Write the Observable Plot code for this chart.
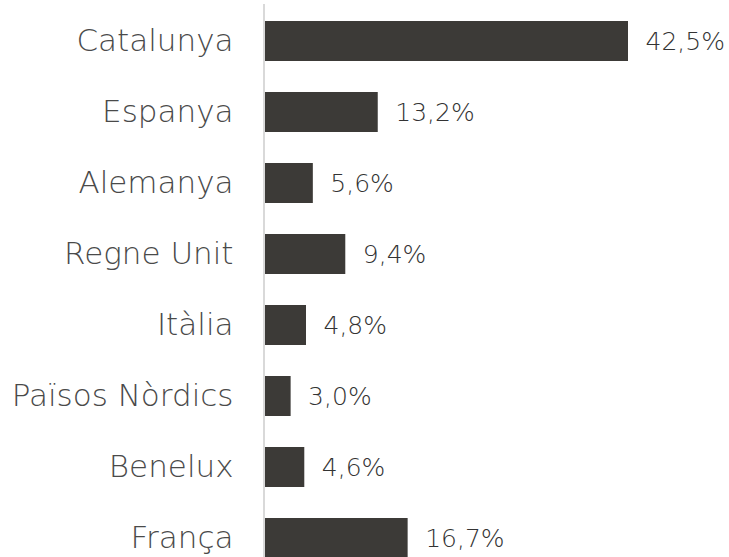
<!DOCTYPE html>
<html>
<head>
<meta charset="utf-8">
<script src="https://cdn.jsdelivr.net/npm/d3@7"></script>
<script src="https://cdn.jsdelivr.net/npm/@observablehq/plot@0.6"></script>
<style>
  html, body { margin: 0; padding: 0; background: #ffffff; }
  #chart { width: 729px; height: 557px; overflow: hidden; }
</style>
</head>
<body>
<div id="chart"></div>
<script>
const categories = ["Catalunya", "Espanya", "Alemanya", "Regne Unit", "Itàlia", "Països Nòrdics", "Benelux", "França"];
const values = [42.5, 13.2, 5.6, 9.4, 4.8, 3.0, 4.6, 16.7];

const data = categories.map((c, i) => ({category: c, value: values[i]}));
const fmt = v => v.toFixed(1).replace(".", ",") + "%";

const chart = Plot.plot({
  width: 729,
  height: 557,
  marginLeft: 265,
  marginRight: 101,
  marginTop: 4,
  marginBottom: 0,
  style: {fontFamily: "'DejaVu Sans', sans-serif", background: "#ffffff"},
  x: {domain: [0, 42.5], axis: null},
  y: {domain: categories, range: [19, 560], paddingInner: 0.44, paddingOuter: 0, label: null},
  marks: [
    Plot.barX(data, {x: "value", y: "category", fill: "#3c3a37"}),
    Plot.ruleX([0], {stroke: "#d9d9d9", strokeWidth: 2, dx: -1.5}),
    Plot.text(data, {x: "value", y: "category", text: d => fmt(d.value), textAnchor: "start",
      dx: 17, fill: "#333333", fontSize: 25, fontWeight: 200}),
    Plot.axisY({tickSize: 0, tickPadding: 32, fontSize: 31, fontWeight: 200, color: "#4a4a4a", label: null})
  ]
});
document.getElementById("chart").appendChild(chart);
</script>
</body>
</html>
